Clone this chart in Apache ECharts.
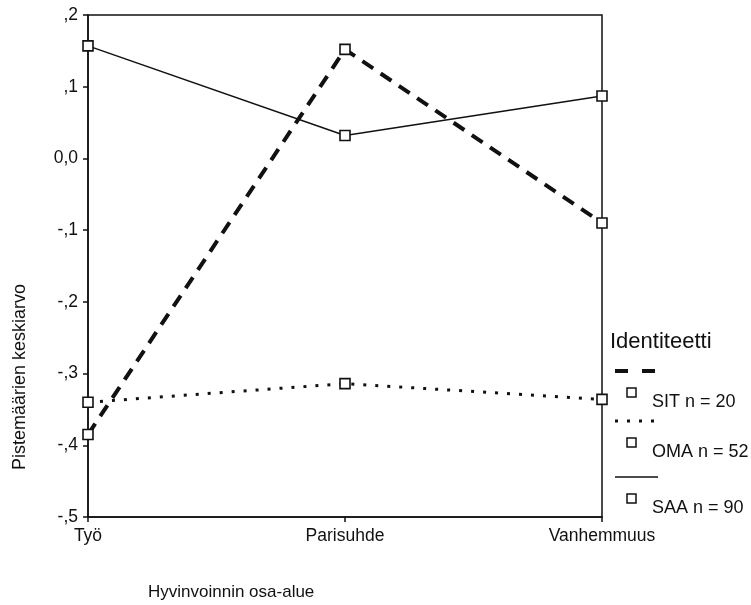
<!DOCTYPE html>
<html>
<head>
<meta charset="utf-8">
<script src="https://cdn.jsdelivr.net/npm/echarts@6/dist/echarts.min.js"></script>
<style>
  html, body { margin: 0; padding: 0; background: #fff; }
  #chart { width: 751px; height: 605px; }
</style>
</head>
<body>
<div id="chart"></div>
<script>
// categories and group means
const categories = ['Työ', 'Parisuhde', 'Vanhemmuus'];
const sitValues = [-0.385, 0.152, -0.090];
const omaValues = [-0.340, -0.314, -0.336];
const saaValues = [0.157, 0.032, 0.087];
const yTickLabels = {'0.2': ',2', '0.1': ',1', '0': '0,0', '-0.1': '-,1', '-0.2': '-,2',
  '-0.3': '-,3', '-0.4': '-,4', '-0.5': '-,5'};

const FONT = 'Liberation Sans, Arial, sans-serif';
const INK = '#111';

const chart = echarts.init(document.getElementById('chart'));

const markerStyle = {color: '#fff', borderColor: INK, borderWidth: 1.6};

function series(name, data, lineStyle) {
  return {
    name,
    type: 'line',
    data,
    symbol: 'rect',
    symbolSize: 10,
    itemStyle: markerStyle,
    lineStyle: Object.assign({color: INK}, lineStyle),
    z: 3
  };
}

// legend is drawn by hand, SPSS style: line sample above, marker + label below
function legendGraphic() {
  const items = [];
  items.push({type: 'text', left: 610, top: 331,
    style: {text: 'Identiteetti', font: '22px ' + FONT, fill: INK}});
  const rows = [
    {y: 371, dash: [13, 14], width: 4, label: 'SIT n = 20'},
    {y: 421, dash: [3, 9], width: 3, label: 'OMA n = 52'},
    {y: 477, dash: null, width: 1.5, label: 'SAA n = 90'}
  ];
  rows.forEach(r => {
    items.push({type: 'line', shape: {x1: 615, y1: r.y, x2: 658, y2: r.y},
      style: {stroke: INK, lineWidth: r.width, lineDash: r.dash}});
    items.push({type: 'rect', shape: {x: 627, y: r.y + 17, width: 9, height: 9},
      style: {fill: '#fff', stroke: INK, lineWidth: 1.5}});
    items.push({type: 'text', left: 652, top: r.y + 22,
      style: {text: r.label, font: '18px ' + FONT, fill: INK}});
  });
  items.push({type: 'text', x: 20, y: 377, rotation: Math.PI / 2,
    style: {text: 'Pistemäärien keskiarvo', font: '18px ' + FONT, fill: INK,
      textAlign: 'center', textVerticalAlign: 'middle'}});
  items.push({type: 'text', left: 148, top: 584,
    style: {text: 'Hyvinvoinnin osa-alue', font: '17px ' + FONT, fill: INK}});
  return items;
}

chart.setOption({
  backgroundColor: '#fff',
  animation: false,
  grid: {left: 88, right: 149, top: 15, bottom: 88, show: true,
    borderColor: INK, borderWidth: 1.5, backgroundColor: 'transparent'},
  xAxis: {
    type: 'category',
    data: categories,
    boundaryGap: false,
    axisLine: {onZero: false, lineStyle: {color: INK, width: 1.5}},
    axisTick: {show: true, length: 5, lineStyle: {color: INK, width: 1.5}},
    axisLabel: {color: INK, fontFamily: FONT, fontSize: 17.5, margin: 10},
    splitLine: {show: false}
  },
  yAxis: {
    type: 'value',
    min: -0.5,
    max: 0.2,
    interval: 0.1,
    axisLine: {show: true, onZero: false, lineStyle: {color: INK, width: 1.5}},
    axisTick: {show: true, length: 5, lineStyle: {color: INK, width: 1.5}},
    axisLabel: {color: INK, fontFamily: FONT, fontSize: 17.5, margin: 10,
      formatter: v => yTickLabels[String(Math.round(v * 10) / 10)] || ''},
    splitLine: {show: false}
  },
  series: [
    series('SIT n = 20', sitValues, {width: 4, type: [13, 9]}),
    series('OMA n = 52', omaValues, {width: 3, type: [3, 9]}),
    series('SAA n = 90', saaValues, {width: 1.5, type: 'solid'})
  ],
  graphic: legendGraphic()
});
</script>
</body>
</html>
